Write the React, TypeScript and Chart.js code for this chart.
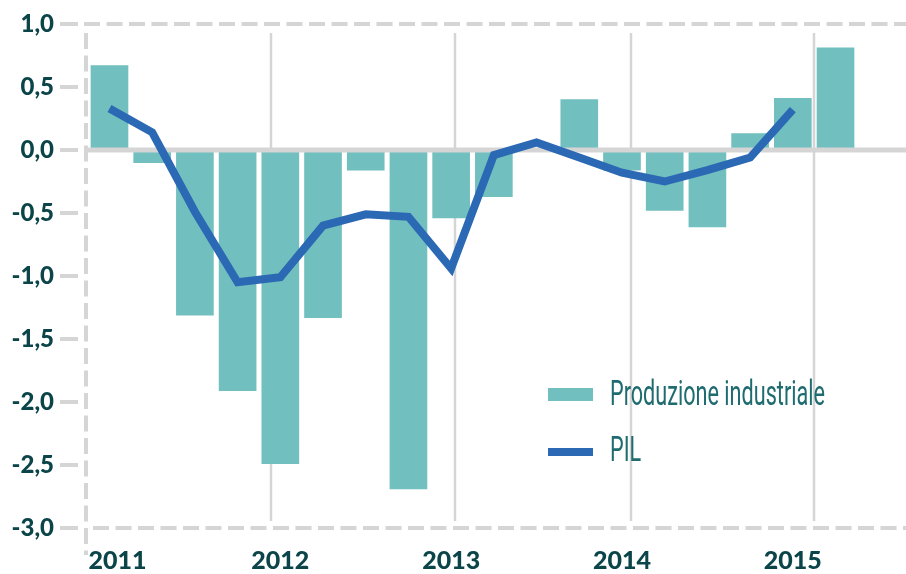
import React, { useEffect, useRef } from 'react';
import { Chart, registerables } from 'chart.js';

Chart.register(...registerables);

// ---- data ----
const quarters = [
  'I 2011', 'II 2011', 'III 2011', 'IV 2011',
  'I 2012', 'II 2012', 'III 2012', 'IV 2012',
  'I 2013', 'II 2013', 'III 2013', 'IV 2013',
  'I 2014', 'II 2014', 'III 2014', 'IV 2014',
  'I 2015', 'II 2015',
];
const yearLabels = ['2011', '2012', '2013', '2014', '2015'];
const produzioneIndustriale = [
  0.67, -0.10, -1.31, -1.91,
  -2.49, -1.33, -0.16, -2.69,
  -0.54, -0.37, 0.00, 0.40,
  -0.16, -0.48, -0.61, 0.13,
  0.41, 0.81,
];
const pil = [
  0.33, 0.14, -0.49, -1.05,
  -1.01, -0.60, -0.51, -0.53,
  -0.94, -0.04, 0.06, -0.06,
  -0.18, -0.25, -0.16, -0.06,
  0.32, null,
];
const yTickValues = [1, 0.5, 0, -0.5, -1, -1.5, -2, -2.5, -3];
const seriesNames = ['Produzione industriale', 'PIL'];

// ---- style / layout ----
const BAR_COLOR = '#71bfbe';
const LINE_COLOR = '#2c69b4';
const GRID_COLOR = '#d5d5d5';
const AXIS_TEXT = '#0c4549';
const LEGEND_TEXT = '#1e6b70';
const yearDividers = [3.78, 8.09, 12.21, 16.5]; // in quarter-index units
const firstLabelShift = 0.19; // first year label nudged right of the axis
const X_MIN = -0.55;
const X_MAX = 18.65;

const decorPlugin = {
  id: 'decor',
  beforeDatasetsDraw(chart: any) {
    const { ctx, chartArea: a, scales } = chart;
    const x = scales.x;
    const y = scales.y;
    const W = chart.width;
    const seg = (x1: number, y1: number, x2: number, y2: number) => {
      ctx.beginPath();
      ctx.moveTo(x1, y1);
      ctx.lineTo(x2, y2);
      ctx.stroke();
    };
    ctx.save();
    ctx.strokeStyle = GRID_COLOR;
    ctx.lineWidth = 2.5;
    yearDividers.forEach((v) => {
      const px = Math.round(x.getPixelForValue(v));
      seg(px, a.top + 9, px, a.bottom - 7);
    });
    ctx.lineWidth = 4;
    yTickValues.forEach((t) => {
      const py = y.getPixelForValue(t);
      seg(60, py, 78, py);
    });
    ctx.setLineDash([16, 6.5]);
    const yTop = y.getPixelForValue(1);
    const yBot = y.getPixelForValue(-3);
    seg(84, yTop, W, yTop);
    seg(93, yBot, W, yBot);
    seg(a.left, a.top + 9, a.left, a.bottom + 27);
    ctx.restore();
  },
  afterDatasetDraw(chart: any, args: any) {
    const meta = chart.getDatasetMeta(args.index);
    if (meta.type !== 'bar') return;
    const { ctx, chartArea: a, scales } = chart;
    const y0 = scales.y.getPixelForValue(0);
    ctx.save();
    ctx.strokeStyle = GRID_COLOR;
    ctx.lineWidth = 5;
    ctx.beginPath();
    ctx.moveTo(a.left + 2, y0);
    ctx.lineTo(chart.width, y0);
    ctx.stroke();
    ctx.restore();
  },
  afterDraw(chart: any) {
    const { ctx } = chart;
    ctx.save();
    ctx.fillStyle = BAR_COLOR;
    ctx.fillRect(548, 388, 45, 13);
    ctx.strokeStyle = LINE_COLOR;
    ctx.lineWidth = 8;
    ctx.beginPath();
    ctx.moveTo(548, 452);
    ctx.lineTo(593, 452);
    ctx.stroke();
    ctx.fillStyle = LEGEND_TEXT;
    ctx.font = '400 35px Roboto';
    ctx.textBaseline = 'alphabetic';
    ctx.textAlign = 'left';
    const w = ctx.measureText(seriesNames[0]).width;
    const sx = 215 / w;
    const drawText = (t: string, x: number, yb: number) => {
      ctx.save();
      ctx.translate(x, yb);
      ctx.scale(sx, 1);
      ctx.fillText(t, 0, 0);
      ctx.restore();
    };
    drawText(seriesNames[0], 610, 405);
    drawText(seriesNames[1], 610, 461);
    ctx.restore();
  },
};

export default function App() {
  const canvasRef = useRef<HTMLCanvasElement | null>(null);

  useEffect(() => {
    if (!canvasRef.current) return;
    const chart = new Chart(canvasRef.current, {
      type: 'bar',
      data: {
        datasets: [
          {
            type: 'bar',
            label: seriesNames[0],
            data: produzioneIndustriale.map((v, i) => ({ x: i, y: v })),
            backgroundColor: BAR_COLOR,
            borderWidth: 0,
            barThickness: 37,
            order: 1,
          } as any,
          {
            type: 'line',
            label: seriesNames[1],
            data: pil.map((v, i) => ({ x: i, y: v })),
            borderColor: LINE_COLOR,
            borderWidth: 8,
            pointRadius: 0,
            tension: 0,
            fill: false,
            borderJoinStyle: 'miter',
            order: 0,
          } as any,
        ],
      },
      options: {
        animation: false,
        responsive: true,
        maintainAspectRatio: false,
        layout: { padding: { top: 24, right: 0, bottom: 0, left: 0 } },
        plugins: {
          legend: { display: false },
          tooltip: { enabled: false },
        },
        scales: {
          x: {
            type: 'linear',
            min: X_MIN,
            max: X_MAX,
            offset: false,
            grid: { display: false, drawTicks: true, tickLength: 16 },
            border: { display: false },
            afterBuildTicks: (scale: any) => {
              scale.ticks = yearLabels.map((_, i) => ({
                value: quarters.indexOf('I ' + yearLabels[i]) + (i === 0 ? firstLabelShift : 0),
              }));
            },
            afterFit: (scale: any) => {
              scale.height = 46;
            },
            ticks: {
              padding: 2,
              maxRotation: 0,
              autoSkip: false,
              color: AXIS_TEXT,
              font: { family: 'Lato', size: 25, weight: '900' },
              callback: (value: any) => {
                const q = Math.round(Number(value));
                const lbl = quarters[q];
                return lbl ? lbl.split(' ')[1] : '';
              },
            },
          },
          y: {
            type: 'linear',
            min: -3,
            max: 1,
            grid: { display: false, drawTicks: true, tickLength: 30 },
            border: { display: false },
            afterFit: (scale: any) => {
              scale.width = 86;
            },
            ticks: {
              stepSize: 0.5,
              padding: 2,
              color: AXIS_TEXT,
              font: { family: 'Lato', size: 24, weight: '900' },
              callback: (value: any) => Number(value).toFixed(1).replace('.', ','),
            },
          },
        },
      } as any,
      plugins: [decorPlugin],
    });
    return () => chart.destroy();
  }, []);

  return (
    <div style={{ position: 'fixed', left: 0, top: 0, width: 906, height: 574, background: '#fff' }}>
      <canvas ref={canvasRef} />
    </div>
  );
}
